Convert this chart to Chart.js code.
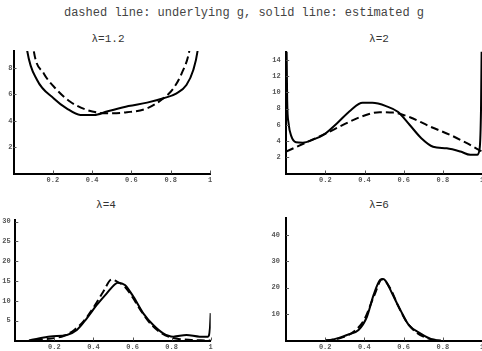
<!DOCTYPE html>
<html>
<head>
<meta charset="utf-8">
<script src="https://cdn.jsdelivr.net/npm/chart.js@4/dist/chart.umd.min.js"></script>
<style>
  html, body { margin: 0; padding: 0; background: #fff; overflow: hidden; width: 482px; height: 351px; }
  .txt { position: absolute; text-align: center; white-space: pre; font-family: "Liberation Mono", monospace; }
  #main { left: 0; top: 6px; width: 488px; font-size: 12px; line-height: 14px; color: #444; }
  .ptitle { width: 100px; font-size: 11px; line-height: 14px; color: #333; }
  canvas { position: absolute; }
</style>
</head>
<body>
<div id="main" class="txt">dashed line: underlying g, solid line: estimated g</div>
<div class="txt ptitle" style="left:58px;top:32px">λ=1.2</div>
<div class="txt ptitle" style="left:329px;top:32px">λ=2</div>
<div class="txt ptitle" style="left:56px;top:198px">λ=4</div>
<div class="txt ptitle" style="left:329px;top:198px">λ=6</div>
<canvas id="c1" width="240" height="160" style="left:0px;top:28px"></canvas>
<canvas id="c2" width="260" height="160" style="left:240px;top:28px"></canvas>
<canvas id="c3" width="240" height="161" style="left:0px;top:190px"></canvas>
<canvas id="c4" width="260" height="161" style="left:240px;top:190px"></canvas>
<script>
const xTicks = [0.2, 0.4, 0.6, 0.8, 1];

// lambda = 1.2
const yTicks1 = [2, 4, 6, 8];
const solid1X = [0.05, 0.07, 0.12, 0.205, 0.27, 0.34, 0.41, 0.475, 0.585, 0.68, 0.763, 0.83, 0.88, 0.915, 0.937, 0.955];
const solid1Y = [12, 9.3, 7.1, 5.7, 4.95, 4.45, 4.45, 4.7, 5.12, 5.38, 5.71, 6.09, 6.72, 7.86, 9.33, 12];
const dash1X = [0.085, 0.103, 0.154, 0.213, 0.289, 0.374, 0.475, 0.577, 0.68, 0.763, 0.814, 0.856, 0.895, 0.91];
const dash1Y = [12, 9.33, 7.6, 6.47, 5.45, 4.82, 4.57, 4.65, 4.95, 5.71, 6.47, 7.6, 9.33, 11];

// lambda = 2
const yTicks2 = [2, 4, 6, 8, 10, 12, 14];
const solid2X = [0, 0.005, 0.012, 0.026, 0.05, 0.085, 0.14, 0.19, 0.26, 0.33, 0.39, 0.44, 0.51, 0.57, 0.63, 0.69, 0.75, 0.82, 0.89, 0.94, 0.975, 0.988, 0.995, 1];
const solid2Y = [20, 9, 6.2, 4.6, 3.85, 3.8, 4.2, 4.75, 6.2, 7.8, 8.7, 8.7, 8.3, 7.6, 6.0, 4.35, 3.3, 3.1, 2.7, 2.3, 2.3, 3.1, 8, 20];
const dash2X = [0, 0.1, 0.2, 0.273, 0.376, 0.478, 0.547, 0.632, 0.735, 0.838, 0.923, 1];
const dash2Y = [2.7, 3.8, 4.9, 5.78, 6.93, 7.55, 7.5, 6.93, 5.78, 4.75, 3.73, 2.7];

// lambda = 4
const yTicks3 = [5, 10, 15, 20, 25, 30];
const solid3X = [0.07, 0.1, 0.18, 0.264, 0.315, 0.366, 0.417, 0.468, 0.51, 0.525, 0.561, 0.604, 0.655, 0.706, 0.757, 0.808, 0.876, 0.944, 0.986, 0.996, 1];
const solid3Y = [0, 0.3, 1.0, 1.4, 2.65, 5.6, 8.96, 11.9, 14.2, 14.6, 14.0, 11.06, 6.86, 3.9, 1.8, 0.97, 1.39, 0.97, 0.97, 3, 6.9];
const dash3X = [0.1, 0.2, 0.25, 0.3, 0.35, 0.4, 0.45, 0.493, 0.53, 0.56, 0.6, 0.65, 0.7, 0.75, 0.8, 0.85, 0.9, 0.95, 1];
const dash3Y = [0.1, 0.6, 1.2, 2.6, 4.9, 8.3, 12.3, 15.4, 14.6, 13.6, 10.9, 7.0, 3.8, 1.8, 0.7, 0.3, 0.15, 0.05, 0];

// lambda = 6
const yTicks4 = [10, 20, 30, 40];
const solid4X = [0.2, 0.226, 0.27, 0.311, 0.37, 0.413, 0.447, 0.481, 0.495, 0.507, 0.541, 0.583, 0.626, 0.685, 0.745, 0.79];
const solid4Y = [0, 0.2, 1.0, 2.1, 4.0, 9.0, 17.3, 23.0, 23.3, 22.7, 17.9, 11.6, 5.9, 2.7, 0.4, 0];
const dash4X = [0.2, 0.25, 0.3, 0.35, 0.4, 0.45, 0.49, 0.53, 0.57, 0.62, 0.67, 0.72, 0.78];
const dash4Y = [0, 0.4, 1.5, 3.6, 8.0, 17.0, 23.2, 20.0, 13.5, 6.5, 2.8, 0.9, 0];

const points = (xs, ys) => xs.map((x, i) => ({ x: x, y: ys[i] }));

// small tick marks drawn inside the axes, like the original
const innerTicks = {
    id: 'innerTicks',
    afterDraw(chart) {
        const { ctx, chartArea, scales: { x, y } } = chart;
        ctx.save();
        ctx.strokeStyle = '#555';
        ctx.lineWidth = 1;
        ctx.beginPath();
        x.ticks.forEach(t => {
            const px = Math.round(x.getPixelForValue(t.value)) + 0.5;
            ctx.moveTo(px, chartArea.bottom);
            ctx.lineTo(px, chartArea.bottom - 3);
        });
        y.ticks.forEach(t => {
            const py = Math.round(y.getPixelForValue(t.value)) + 0.5;
            ctx.moveTo(chartArea.left, py);
            ctx.lineTo(chartArea.left + 3, py);
        });
        ctx.stroke();
        ctx.restore();
    }
};

const tickFont = { family: '"Liberation Mono", monospace', size: 7, weight: 'bold' };

const makePanel = (id, solid, dashed, yMax, yTicks, box) => {
    new Chart(document.getElementById(id).getContext('2d'), {
        type: 'line',
        data: {
            datasets: [
                {
                    data: solid,
                    borderColor: '#000',
                    borderWidth: 2,
                    pointRadius: 0,
                    cubicInterpolationMode: 'monotone'
                },
                {
                    data: dashed,
                    borderColor: '#000',
                    borderWidth: 2,
                    borderDash: [8, 4],
                    pointRadius: 0,
                    cubicInterpolationMode: 'monotone'
                }
            ]
        },
        options: {
            responsive: false,
            animation: false,
            layout: { padding: box.pad },
            plugins: {
                legend: { display: false },
                tooltip: { enabled: false }
            },
            scales: {
                x: {
                    type: 'linear',
                    min: 0,
                    max: 1,
                    grid: { display: false, drawTicks: false },
                    border: { display: true, color: '#000', width: 2 },
                    ticks: {
                        font: tickFont,
                        color: '#555',
                        padding: 3,
                        maxRotation: 0,
                        callback: v => String(v)
                    },
                    afterBuildTicks: s => { s.ticks = xTicks.map(v => ({ value: v })); },
                    afterFit: s => { s.height = box.xh; }
                },
                y: {
                    min: 0,
                    max: yMax,
                    grid: { display: false, drawTicks: false },
                    border: { display: true, color: '#000', width: 2 },
                    ticks: {
                        font: tickFont,
                        color: '#555',
                        padding: box.yPad
                    },
                    afterBuildTicks: s => { s.ticks = yTicks.map(v => ({ value: v })); },
                    afterFit: s => { s.width = box.yw; }
                }
            }
        },
        plugins: [innerTicks]
    });
};

makePanel('c1', points(solid1X, solid1Y), points(dash1X, dash1Y), 9.3, yTicks1,
    { pad: { left: 0, right: 30, top: 23, bottom: 0 }, xh: 14.5, yw: 13.5, yPad: 1 });
makePanel('c2', points(solid2X, solid2Y), points(dash2X, dash2Y), 15, yTicks2,
    { pad: { left: 0, right: 18, top: 23.7, bottom: 0 }, xh: 14.5, yw: 46.2, yPad: 5.5 });
makePanel('c3', points(solid3X, solid3Y), points(dash3X, dash3Y), 30.4, yTicks3,
    { pad: { left: 0, right: 29.3, top: 30, bottom: 0 }, xh: 10.5, yw: 15.3, yPad: 4.6 });
makePanel('c4', points(solid4X, solid4Y), points(dash4X, dash4Y), 46.3, yTicks4,
    { pad: { left: 0, right: 18, top: 28.3, bottom: 0 }, xh: 10.5, yw: 46, yPad: 6 });
</script>
</body>
</html>
